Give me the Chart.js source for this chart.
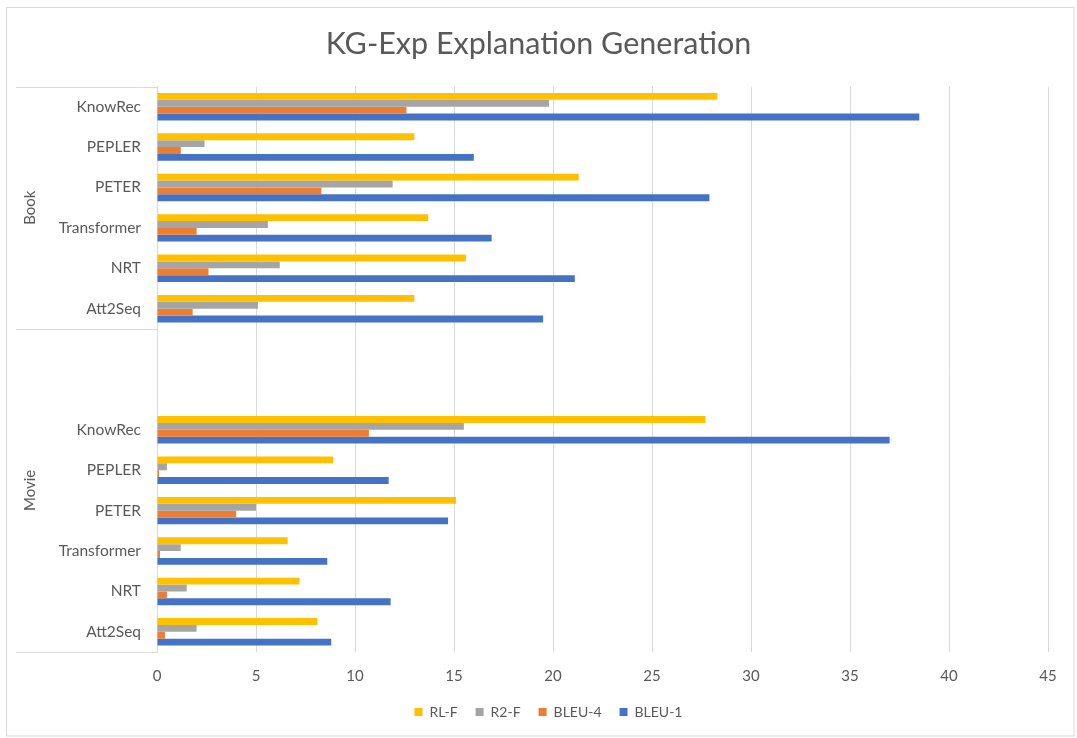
<!DOCTYPE html>
<html>
<head>
<meta charset="utf-8">
<title>KG-Exp Explanation Generation</title>
<script src="https://cdn.jsdelivr.net/npm/chart.js@4.4.1/dist/chart.umd.min.js"></script>
<style>
  html, body { margin: 0; padding: 0; background: #ffffff; }
  #wrap { width: 1077px; height: 738px; position: relative; }
</style>
</head>
<body>
<div id="wrap"><canvas id="chart"></canvas></div>
<script>
// Models compared in each domain (listed top to bottom)
const methods = ['KnowRec', 'PEPLER', 'PETER', 'Transformer', 'NRT', 'Att2Seq'];
const domains = ['Book', 'Movie'];
const seriesNames = ['RL-F', 'R2-F', 'BLEU-4', 'BLEU-1'];
const xTickValues = [0, 5, 10, 15, 20, 25, 30, 35, 40, 45];

// Book domain scores
const bookRLF   = [28.3, 13.0, 21.3, 13.7, 15.6, 13.0];
const bookR2F   = [19.8, 2.4, 11.9, 5.6, 6.2, 5.1];
const bookBLEU4 = [12.6, 1.2, 8.3, 2.0, 2.6, 1.8];
const bookBLEU1 = [38.5, 16.0, 27.9, 16.9, 21.1, 19.5];

// Movie domain scores
const movieRLF   = [27.7, 8.9, 15.1, 6.6, 7.2, 8.1];
const movieR2F   = [15.5, 0.5, 5.0, 1.2, 1.5, 2.0];
const movieBLEU4 = [10.7, 0.1, 4.0, 0.15, 0.5, 0.4];
const movieBLEU1 = [37.0, 11.7, 14.7, 8.6, 11.8, 8.8];

const seriesColors = ['#FFC000', '#A5A5A5', '#ED7D31', '#4472C4'];

// Two empty rows separate the Book block from the Movie block
const spacerCount = 2;
const spacerLabels = new Array(spacerCount).fill('');
const spacerValues = new Array(spacerCount).fill(null);

const labels = [...methods, ...spacerLabels, ...methods];
const joinDomains = (book, movie) => [...book, ...spacerValues, ...movie];

const seriesData = [
  joinDomains(bookRLF, movieRLF),
  joinDomains(bookR2F, movieR2F),
  joinDomains(bookBLEU4, movieBLEU4),
  joinDomains(bookBLEU1, movieBLEU1)
];

// Index ranges of the outer category level (Movie block includes the spacer rows)
const domainSpans = [
  { name: domains[0], start: 0, end: methods.length - 1 },
  { name: domains[1], start: methods.length, end: labels.length - 1 }
];

const textGray = '#595959';
const lineGray = '#d9d9d9';
const fontStack = 'Lato, "Open Sans", sans-serif';

Chart.defaults.font.family = fontStack;
Chart.defaults.color = textGray;

// White background and thin outer frame around the whole chart
const chartFrame = {
  id: 'chartFrame',
  beforeDraw(chart) {
    const { ctx, width, height } = chart;
    ctx.save();
    ctx.fillStyle = '#ffffff';
    ctx.fillRect(0, 0, width, height);
    ctx.strokeStyle = lineGray;
    ctx.lineWidth = 1;
    ctx.strokeRect(6.5, 7.5, width - 3 - 6.5, height - 2 - 7.5);
    ctx.restore();
  }
};

// Nudge the legend row a little to the right of centre
const legendOffset = {
  id: 'legendOffset',
  afterLayout(chart) {
    if (chart.legend) {
      chart.legend.left += 10;
      chart.legend.right += 10;
    }
  }
};

// Outer level of the category axis: rotated domain names and separator rules
const domainAxis = {
  id: 'domainAxis',
  afterDraw(chart) {
    const { ctx, chartArea } = chart;
    const y = chart.scales.y;
    const half = (y.getPixelForValue(1) - y.getPixelForValue(0)) / 2;
    const x0 = 16;
    const x1 = chartArea.left;
    ctx.save();
    ctx.strokeStyle = lineGray;
    ctx.lineWidth = 1;
    domainSpans.forEach(span => {
      const top = y.getPixelForValue(span.start) - half;
      const bottom = y.getPixelForValue(span.end) + half;
      [top, bottom].forEach(py => {
        const yy = Math.round(py) + 0.5;
        ctx.beginPath();
        ctx.moveTo(x0, yy);
        ctx.lineTo(x1, yy);
        ctx.stroke();
      });
      ctx.save();
      ctx.translate(30, (top + bottom) / 2);
      ctx.rotate(-Math.PI / 2);
      ctx.fillStyle = textGray;
      ctx.font = '15px ' + fontStack;
      ctx.textAlign = 'center';
      ctx.textBaseline = 'middle';
      ctx.fillText(span.name, 0, 0);
      ctx.restore();
    });
    ctx.restore();
  }
};

new Chart(document.getElementById('chart'), {
  type: 'bar',
  data: {
    labels: labels,
    datasets: seriesNames.map((name, i) => ({
      label: name,
      data: seriesData[i],
      backgroundColor: seriesColors[i],
      borderWidth: 0,
      categoryPercentage: 0.68,
      barPercentage: 1.0
    }))
  },
  options: {
    indexAxis: 'y',
    responsive: true,
    maintainAspectRatio: false,
    animation: false,
    layout: { padding: { left: 0, right: 0, top: 0, bottom: 9 } },
    scales: {
      x: {
        min: xTickValues[0],
        max: xTickValues[xTickValues.length - 1],
        afterBuildTicks(scale) {
          scale.ticks = xTickValues.map(v => ({ value: v }));
        },
        afterFit(scale) { scale.height = 35; },
        grid: { color: lineGray, lineWidth: 1, drawTicks: false },
        border: { display: false },
        ticks: { padding: 15, color: textGray, font: { size: 15 } }
      },
      y: {
        grid: { display: false, drawTicks: false },
        border: { display: true, color: lineGray, width: 1 },
        afterFit(scale) { scale.width = 157; },
        ticks: { padding: 16, color: textGray, font: { size: 15.5 }, autoSkip: false }
      },
      // empty margin on the right of the plot
      rightMargin: {
        type: 'linear',
        axis: 'y',
        position: 'right',
        min: 0,
        max: 1,
        grid: { display: false, drawTicks: false },
        border: { display: false },
        ticks: { display: false },
        afterFit(scale) { scale.width = 29; }
      }
    },
    plugins: {
      title: {
        display: true,
        text: 'KG-Exp Explanation Generation',
        color: textGray,
        font: { size: 30.5, weight: 'normal' },
        padding: { top: 25.7, bottom: 24.2 }
      },
      legend: {
        position: 'bottom',
        labels: {
          boxWidth: 8,
          boxHeight: 8,
          padding: 18,
          color: textGray,
          font: { size: 14 }
        }
      },
      tooltip: { enabled: false }
    }
  },
  plugins: [chartFrame, legendOffset, domainAxis]
});
</script>
</body>
</html>
